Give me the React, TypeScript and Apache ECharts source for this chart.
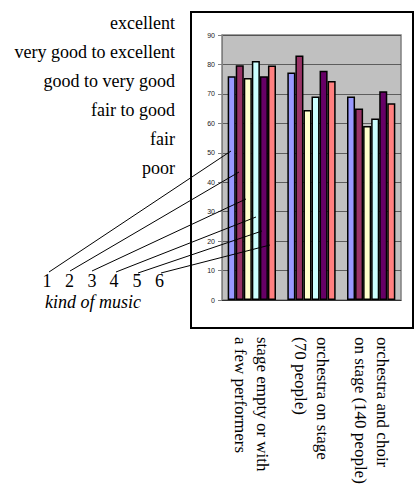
import React, { useEffect, useRef } from "react";
import * as echarts from "echarts";

const categories = [
  "stage empty or with\na few performers",
  "orchestra on stage\n(70 people)",
  "orchestra and choir\non stage (140 people)",
];
const musicKinds = ["1", "2", "3", "4", "5", "6"];
const music1 = [76, 77.3, 69.1];
const music2 = [79.7, 83, 65];
const music3 = [75.4, 64.5, 59.1];
const music4 = [81.2, 69.1, 61.6];
const music5 = [76, 77.9, 70.9];
const music6 = [79.6, 74.4, 66.8];
const ratingLabels = [
  "excellent",
  "very good to excellent",
  "good to very good",
  "fair to good",
  "fair",
  "poor",
];
const yMin = 0;
const yMax = 90;
const yInterval = 10;

const seriesValues = [music1, music2, music3, music4, music5, music6];
const colors = ["#9999FF", "#993366", "#FFFFCC", "#CCFFFF", "#660066", "#FF8080"];

// annotation leader lines: from number label to bar in first group
const leaderStart = [
  [49, 272],
  [70, 271],
  [92, 271],
  [116, 272],
  [138, 273],
  [161, 273],
];
const leaderEnd = [
  [231, 151],
  [239, 172],
  [246, 199],
  [256, 217],
  [262, 231],
  [270, 245],
];
const numberX = [47, 69.5, 92, 114, 137, 159.5];

export default function App() {
  const ref = useRef<HTMLDivElement>(null);
  useEffect(() => {
    if (!ref.current) return;
    const chart = echarts.init(ref.current, undefined, { renderer: "svg" });
    const serif = "Liberation Serif";
    const graphics: any[] = [
      {
        type: "rect",
        shape: { x: 191, y: 12, width: 222, height: 316 },
        style: { fill: "none", stroke: "#000", lineWidth: 2 },
        z: 1,
      },
    ];
    ratingLabels.forEach((t, i) => {
      graphics.push({
        type: "text",
        x: 175,
        y: 23 + i * 29,
        style: {
          text: t,
          fontFamily: serif,
          fontSize: 18,
          fill: "#000",
          align: "right",
          verticalAlign: "middle",
        },
        z: 100,
      });
    });
    musicKinds.forEach((t, i) => {
      graphics.push({
        type: "text",
        x: numberX[i],
        y: 281,
        style: {
          text: t,
          fontFamily: serif,
          fontSize: 18,
          fill: "#000",
          align: "center",
          verticalAlign: "middle",
        },
        z: 100,
      });
      graphics.push({
        type: "line",
        shape: {
          x1: leaderStart[i][0],
          y1: leaderStart[i][1],
          x2: leaderEnd[i][0],
          y2: leaderEnd[i][1],
        },
        style: { stroke: "#000", lineWidth: 1 },
        z: 100,
      });
    });
    graphics.push({
      type: "text",
      x: 93,
      y: 302,
      style: {
        text: "kind of music",
        fontFamily: serif,
        fontSize: 18,
        fontStyle: "italic",
        fill: "#000",
        align: "center",
        verticalAlign: "middle",
      },
      z: 100,
    });

    chart.setOption({
      animation: false,
      backgroundColor: "#fff",
      grid: {
        left: 222,
        top: 35,
        right: 13,
        bottom: 195,
        show: true,
        backgroundColor: "#C0C0C0",
        borderColor: "#808080",
        borderWidth: 1.5,
      },
      xAxis: {
        type: "category",
        data: categories,
        axisLine: { show: true, lineStyle: { color: "#333", width: 1 } },
        axisTick: { show: false },
        axisLabel: {
          rotate: -90,
          margin: 37,
          interval: 0,
          fontFamily: serif,
          fontSize: 17,
          lineHeight: 22,
          color: "#000",
        },
      },
      yAxis: {
        type: "value",
        min: yMin,
        max: yMax,
        interval: yInterval,
        axisLine: { show: true, lineStyle: { color: "#808080", width: 1 } },
        axisTick: { show: true, length: 4, lineStyle: { color: "#808080" } },
        axisLabel: {
          fontFamily: "Liberation Sans",
          fontSize: 7,
          color: "#222",
          margin: 7,
        },
        splitLine: { show: true, lineStyle: { color: "#444", width: 0.8 } },
      },
      series: seriesValues.map((vals, i) => ({
        type: "bar",
        name: musicKinds[i],
        data: vals,
        barGap: "0%",
        barCategoryGap: "19%",
        itemStyle: { color: colors[i], borderColor: "#000", borderWidth: 1.5 },
      })),
      graphic: graphics,
    });
    return () => chart.dispose();
  }, []);
  return (
    <div
      ref={ref}
      style={{ position: "fixed", left: 0, top: 0, width: 414, height: 495 }}
    />
  );
}
